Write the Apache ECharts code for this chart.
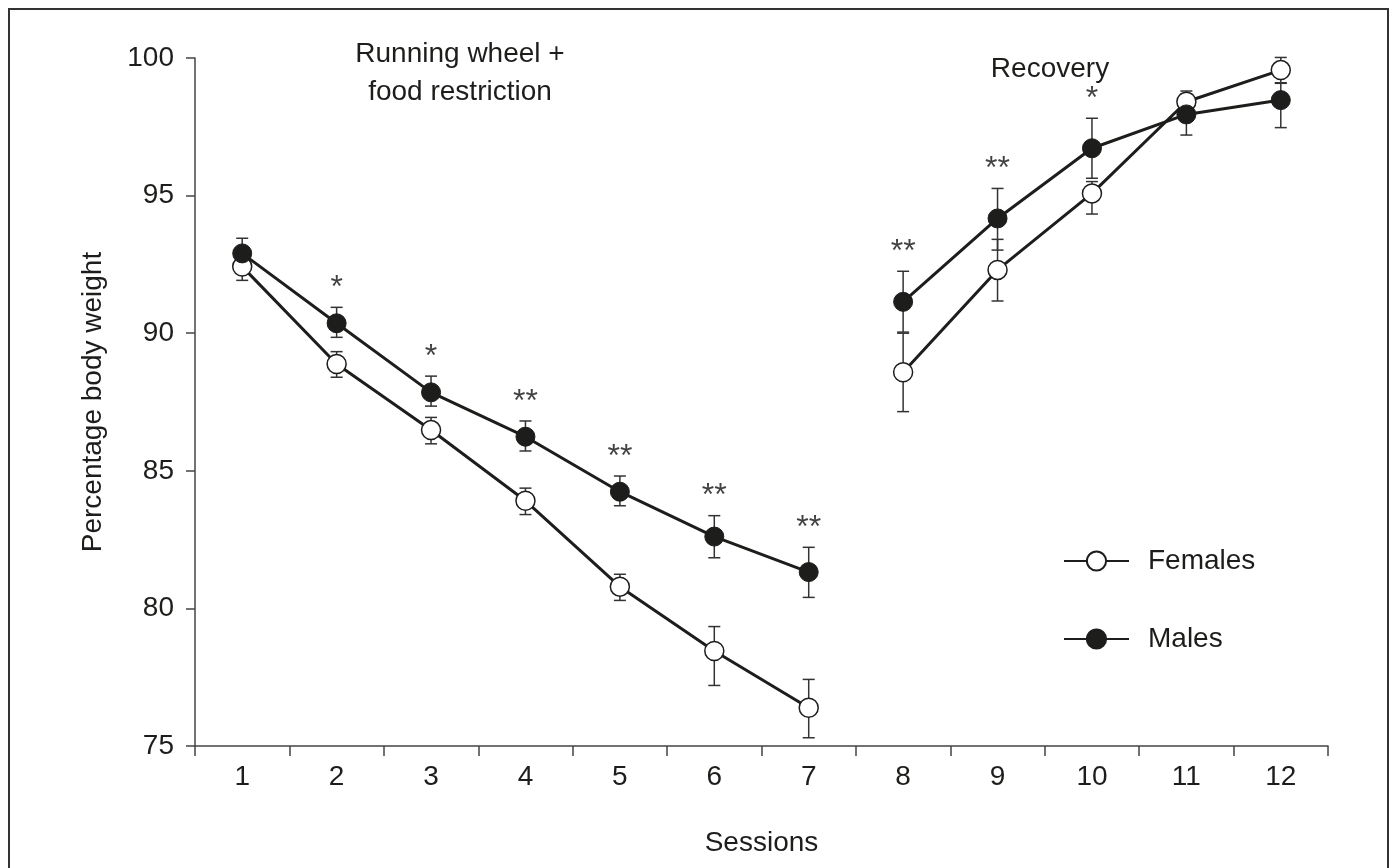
<!DOCTYPE html>
<html>
<head>
<meta charset="utf-8">
<script src="https://cdn.jsdelivr.net/npm/echarts@6/dist/echarts.min.js"></script>
<style>
html,body{margin:0;padding:0;background:#fff;}
#chart{width:1396px;height:868px;}
</style>
</head>
<body>
<div id="chart"></div>
<script>
// ---- data ----
const sessions = ['1','2','3','4','5','6','7','8','9','10','11','12'];
const femalesMean = [92.42, 88.88, 86.48, 83.91, 80.79, 78.45, 76.39, 88.58, 92.30, 95.08, 98.41, 99.56];
const femalesLow  = [91.92, 88.40, 85.98, 83.41, 80.29, 77.20, 75.30, 87.15, 91.17, 94.33, 98.00, 99.08];
const femalesHigh = [92.90, 89.33, 86.94, 84.37, 81.24, 79.34, 77.42, 90.00, 93.41, 95.51, 98.80, 100.02];
const malesMean   = [92.90, 90.36, 87.85, 86.24, 84.24, 82.61, 81.32, 91.14, 94.17, 96.72, 97.95, 98.47];
const malesLow    = [92.40, 89.85, 87.35, 85.72, 83.73, 81.84, 80.40, 90.04, 93.02, 95.63, 97.20, 97.47];
const malesHigh   = [93.45, 90.94, 88.44, 86.81, 84.81, 83.37, 82.22, 92.25, 95.26, 97.81, 98.70, 99.10];
const significance = ['', '*', '*', '**', '**', '**', '**', '**', '**', '*', '', ''];
const yTicks = [75, 80, 85, 90, 95, 100];
const phaseBreak = 7; // sessions 1-7 restriction, 8-12 recovery

const FONT = "'Liberation Sans',Arial,Helvetica,sans-serif";
const FS = 28;
const INK = '#1d1d1b';

function phase(arr, first) {
  return arr.map((v, i) => (first ? i < phaseBreak : i >= phaseBreak) ? v : '-');
}
function errData(low, high) {
  return low.map((l, i) => [i, l, high[i]]);
}
function renderErr(params, api) {
  const x = api.value(0);
  const lo = api.coord([x, api.value(1)]);
  const hi = api.coord([x, api.value(2)]);
  const w = 6;
  const style = {stroke: '#333', lineWidth: 1.5, fill: null};
  return {
    type: 'group',
    children: [
      {type: 'line', shape: {x1: lo[0], y1: lo[1], x2: hi[0], y2: hi[1]}, style},
      {type: 'line', shape: {x1: lo[0]-w, y1: lo[1], x2: lo[0]+w, y2: lo[1]}, style},
      {type: 'line', shape: {x1: hi[0]-w, y1: hi[1], x2: hi[0]+w, y2: hi[1]}, style}
    ]
  };
}

const femaleStyle = {
  type: 'line', name: 'Females', symbol: 'circle', symbolSize: 19,
  lineStyle: {color: INK, width: 3}, itemStyle: {color: '#fff', borderColor: INK, borderWidth: 1.5},
  z: 3, animation: false
};
const maleStyle = {
  type: 'line', name: 'Males', symbol: 'circle', symbolSize: 19,
  lineStyle: {color: INK, width: 3}, itemStyle: {color: INK, borderColor: INK, borderWidth: 1},
  z: 4, animation: false
};

const chart = echarts.init(document.getElementById('chart'));
chart.setOption({
  animation: false,
  backgroundColor: '#fff',
  textStyle: {fontFamily: FONT},
  grid: {left: 195, right: 68, top: 58, bottom: 122, containLabel: false},
  xAxis: {
    type: 'category', data: sessions, boundaryGap: true,
    name: 'Sessions', nameLocation: 'middle', nameGap: 83,
    nameTextStyle: {fontSize: FS, color: INK, fontFamily: FONT},
    axisLine: {lineStyle: {color: '#444', width: 1.5}},
    axisTick: {show: true, inside: false, length: 10, alignWithLabel: false, lineStyle: {color: '#444', width: 1.5}},
    axisLabel: {fontSize: FS, color: INK, margin: 17, fontFamily: FONT},
    splitLine: {show: false}
  },
  yAxis: {
    type: 'value', min: yTicks[0], max: yTicks[yTicks.length-1], interval: 5,
    name: 'Percentage body weight', nameLocation: 'middle', nameGap: 88,
    nameTextStyle: {fontSize: FS, color: INK, fontFamily: FONT},
    axisLine: {show: true, lineStyle: {color: '#444', width: 1.5}},
    axisTick: {show: true, inside: false, length: 9, lineStyle: {color: '#444', width: 1.5}},
    axisLabel: {fontSize: FS, color: INK, margin: 21, fontFamily: FONT},
    splitLine: {show: false}
  },
  legend: {
    orient: 'vertical', left: 1058, top: 542, itemWidth: 65, itemHeight: 24, itemGap: 50,
    data: ['Females', 'Males'],
    textStyle: {fontSize: FS, color: INK, fontFamily: FONT, padding: [0, 0, 0, 14]},
    selectedMode: false
  },
  graphic: [
    {type: 'rect', x: 9, y: 9, shape: {width: 1379, height: 900},
     style: {fill: null, stroke: '#333', lineWidth: 2}, silent: true, z: -1},
    {type: 'text', x: 460, y: 35, style: {text: 'Running wheel +\nfood restriction', font: FS + 'px ' + FONT,
     fill: INK, align: 'center', textAlign: 'center', lineHeight: 38}},
    {type: 'text', x: 1050, y: 55, style: {text: 'Recovery', font: FS + 'px ' + FONT, fill: INK, align: 'center', textAlign: 'center'}}
  ],
  series: [
    {type: 'custom', name: 'errF', data: errData(femalesLow, femalesHigh), renderItem: renderErr, z: 1, silent: true},
    {type: 'custom', name: 'errM', data: errData(malesLow, malesHigh), renderItem: renderErr, z: 1, silent: true},
    Object.assign({}, femaleStyle, {data: phase(femalesMean, true)}),
    Object.assign({}, femaleStyle, {data: phase(femalesMean, false)}),
    Object.assign({}, maleStyle, {data: phase(malesMean, true)}),
    Object.assign({}, maleStyle, {data: phase(malesMean, false)}),
    {
      type: 'scatter', name: 'sig', symbolSize: 0, silent: true, z: 5,
      data: malesHigh.map((v, i) => ({value: [i, v], label: {formatter: significance[i]}})),
      label: {show: true, position: 'top', distance: 3, fontSize: 32, color: '#111', fontFamily: FONT}
    }
  ]
});
</script>
</body>
</html>
